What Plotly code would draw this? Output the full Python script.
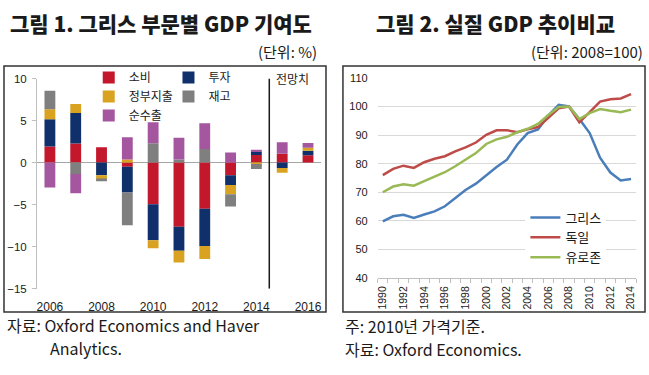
import plotly.graph_objects as go

# ---------------- data: Figure 1 (Greece GDP contribution by sector) ----------------
bar_years = [2006, 2007, 2008, 2009, 2010, 2011, 2012, 2013, 2014, 2015, 2016]
consumption = [1.93, 2.27, 1.82, -0.50, -4.96, -7.63, -5.50, -1.49, 0.92, 1.06, 0.87]
investment = [3.22, 3.63, -1.50, -3.05, -4.27, -2.86, -4.43, -1.18, 0.35, -0.64, 0.53]
government = [1.21, 1.07, -0.50, 0.38, -0.95, -1.41, -1.53, -1.10, -0.15, -0.57, 0.38]
inventory = [2.20, -1.35, -0.23, -3.90, 2.30, 0.38, 1.63, -1.45, -0.60, 0.0, 0.0]
net_exports = [-2.95, -2.30, 0.0, 2.65, 2.50, 2.57, 3.07, 1.21, 0.25, 1.36, 0.57]
bar_ticks = [2006, 2008, 2010, 2012, 2014, 2016]
bar_yticks = [-15, -10, -5, 0, 5, 10]

# ---------------- data: Figure 2 (real GDP, 2008=100) ----------------
line_years = list(range(1990, 2015))
greece = [59.8, 61.6, 62.1, 61.0, 62.2, 63.3, 65.1, 68.0, 70.8, 73.0, 76.0, 78.8, 81.4,
          86.7, 90.7, 92.0, 96.8, 100.6, 100.0, 95.6, 90.7, 82.1, 76.9, 74.1, 74.6]
germany = [76.0, 78.2, 79.3, 78.5, 80.5, 81.7, 82.6, 84.3, 85.7, 87.4, 90.1, 91.7, 91.7,
           91.0, 92.0, 92.8, 96.0, 99.4, 100.0, 94.5, 98.0, 101.7, 102.5, 102.8, 104.3]
eurozone = [70.0, 72.0, 72.8, 72.3, 73.9, 75.5, 77.0, 79.1, 81.4, 83.7, 86.9, 88.5, 89.4,
            91.0, 92.2, 93.9, 97.0, 99.8, 100.0, 95.6, 97.7, 99.1, 98.5, 98.0, 98.9]
line_xticks = list(range(1990, 2015, 2))
line_yticks = [40, 50, 60, 70, 80, 90, 100, 110]

W, H = 649, 375


def px_x(p):
    return p / W


def px_y(p):
    return 1 - p / H


KR = "Noto Sans CJK KR"
NUM = "Liberation Sans"

fig = go.Figure()

bar_series = [
    ("소비", consumption, "#C3172C", "legend"),
    ("투자", investment, "#10306C", "legend2"),
    ("정부지출", government, "#D9A321", "legend"),
    ("재고", inventory, "#7F7F7F", "legend2"),
    ("순수출", net_exports, "#A4579F", "legend"),
]
for name, vals, color, lg in bar_series:
    fig.add_trace(go.Bar(
        x=bar_years, y=vals, name=name, width=0.42,
        marker=dict(color=color, line=dict(width=0)),
        xaxis="x", yaxis="y", legend=lg,
    ))

line_series = [
    ("그리스", greece, "#4A7EBB"),
    ("독일", germany, "#BE4B48"),
    ("유로존", eurozone, "#98B954"),
]
for name, vals, color in line_series:
    fig.add_trace(go.Scatter(
        x=line_years, y=vals, name=name, mode="lines",
        line=dict(color=color, width=2.5),
        xaxis="x2", yaxis="y2", legend="legend3",
    ))

fig.update_layout(
    width=W, height=H,
    margin=dict(l=0, r=0, t=0, b=0),
    paper_bgcolor="white", plot_bgcolor="white",
    barmode="relative",
    font=dict(family=KR, color="#1a1a1a"),
    xaxis=dict(
        domain=[px_x(36.1), px_x(320.9)], range=[2005.5, 2016.5], anchor="y",
        tickvals=bar_ticks, ticks="", showline=False, showgrid=False, zeroline=False,
        tickfont=dict(family=NUM, size=12, color="#1a1a1a"), ticklabelstandoff=9,
    ),
    xaxis3=dict(
        overlaying="x", anchor="free", position=px_y(161), range=[2005.5, 2016.5],
        tickvals=[y - 0.5 for y in bar_years] + [2016.5], ticks="outside", ticklen=4,
        tickcolor="#A6A6A6", showticklabels=False, showline=False, showgrid=False,
        zeroline=False,
    ),
    yaxis=dict(
        domain=[px_y(292), px_y(75)], range=[-15, 10], anchor="x",
        tickvals=bar_yticks, showline=True, linecolor="#BFBFBF", ticks="outside",
        ticklen=4, tickcolor="#BFBFBF", showgrid=False, zeroline=True,
        zerolinecolor="#A6A6A6", zerolinewidth=1,
        tickfont=dict(family=NUM, size=11.5, color="#1a1a1a"), ticklabelstandoff=3,
    ),
    xaxis2=dict(
        domain=[px_x(377.8), px_x(637.2)], range=[1989.5, 2014.5], anchor="y2",
        tickvals=line_xticks, tickangle=-90, ticks="", showline=True,
        linecolor="#BFBFBF", showgrid=False, zeroline=False,
        minor=dict(ticks="outside", tick0=1989.5, dtick=1, ticklen=4, tickcolor="#BFBFBF"),
        tickfont=dict(family=NUM, size=10.5, color="#1a1a1a"), ticklabelstandoff=3,
    ),
    yaxis2=dict(
        domain=[px_y(281), px_y(74.3)], range=[40, 110], anchor="x2",
        tickvals=line_yticks, showgrid=True, gridcolor="#D9D9D9", gridwidth=1,
        showline=False, zeroline=False, ticks="",
        tickfont=dict(family=NUM, size=11, color="#1a1a1a"), ticklabelstandoff=9,
    ),
    legend=dict(
        x=px_x(88), y=px_y(59), xanchor="left", yanchor="top",
        font=dict(family=KR, size=12, color="#1a1a1a"),
        bgcolor="rgba(0,0,0,0)", traceorder="normal", tracegroupgap=0,
    ),
    legend2=dict(
        x=px_x(168), y=px_y(59), xanchor="left", yanchor="top",
        font=dict(family=KR, size=12, color="#1a1a1a"),
        bgcolor="rgba(0,0,0,0)", traceorder="normal", tracegroupgap=0,
    ),
    legend3=dict(
        x=px_x(526), y=px_y(203), xanchor="left", yanchor="top",
        font=dict(family=KR, size=13, color="#1a1a1a"),
        bgcolor="white", traceorder="normal", tracegroupgap=0,
    ),
    shapes=[
        dict(type="rect", xref="paper", yref="paper", x0=px_x(3), x1=px_x(326),
             y0=px_y(316), y1=px_y(62), line=dict(color="#333333", width=1.5)),
        dict(type="rect", xref="paper", yref="paper", x0=px_x(343), x1=px_x(646),
             y0=px_y(316), y1=px_y(62), line=dict(color="#333333", width=1.5)),
        dict(type="line", xref="x", yref="y", x0=2014.5, x1=2014.5, y0=-15, y1=10,
             line=dict(color="#1a1a1a", width=1.5)),
    ],
    annotations=[
        dict(text="그림 1. 그리스 부문별 GDP 기여도", xref="paper", yref="paper",
             x=px_x(7), y=px_y(18), xanchor="left", yanchor="middle", showarrow=False,
             font=dict(family=KR, size=21, weight=900, color="#1a1a1a")),
        dict(text="(단위: %)", xref="paper", yref="paper",
             x=px_x(319), y=px_y(47), xanchor="right", yanchor="middle", showarrow=False,
             font=dict(family=KR, size=15, color="#1a1a1a")),
        dict(text="그림 2. 실질 GDP 추이비교", xref="paper", yref="paper",
             x=px_x(374), y=px_y(18), xanchor="left", yanchor="middle", showarrow=False,
             font=dict(family=KR, size=21, weight=900, color="#1a1a1a")),
        dict(text="(단위: 2008=100)", xref="paper", yref="paper",
             x=px_x(646), y=px_y(47), xanchor="right", yanchor="middle", showarrow=False,
             font=dict(family=KR, size=15, color="#1a1a1a")),
        dict(text="전망치", xref="paper", yref="paper",
             x=px_x(292), y=px_y(75), xanchor="center", yanchor="middle", showarrow=False,
             font=dict(family=KR, size=12, color="#1a1a1a")),
        dict(text="자료: Oxford Economics and Haver", xref="paper", yref="paper",
             x=px_x(4), y=px_y(330), xanchor="left", yanchor="middle", showarrow=False,
             font=dict(family=KR, size=16, color="#1a1a1a")),
        dict(text="Analytics.", xref="paper", yref="paper",
             x=px_x(47), y=px_y(353), xanchor="left", yanchor="middle", showarrow=False,
             font=dict(family=KR, size=16, color="#1a1a1a")),
        dict(text="주: 2010년 가격기준.", xref="paper", yref="paper",
             x=px_x(343), y=px_y(331), xanchor="left", yanchor="middle", showarrow=False,
             font=dict(family=KR, size=16, color="#1a1a1a")),
        dict(text="자료: Oxford Economics.", xref="paper", yref="paper",
             x=px_x(343), y=px_y(354), xanchor="left", yanchor="middle", showarrow=False,
             font=dict(family=KR, size=16, color="#1a1a1a")),
    ],
)

fig.write_html(
    "out.html",
    config={"displayModeBar": False},
    post_script="document.body.style.margin='0';document.body.style.padding='0';"
                "document.body.style.overflow='hidden';",
)
